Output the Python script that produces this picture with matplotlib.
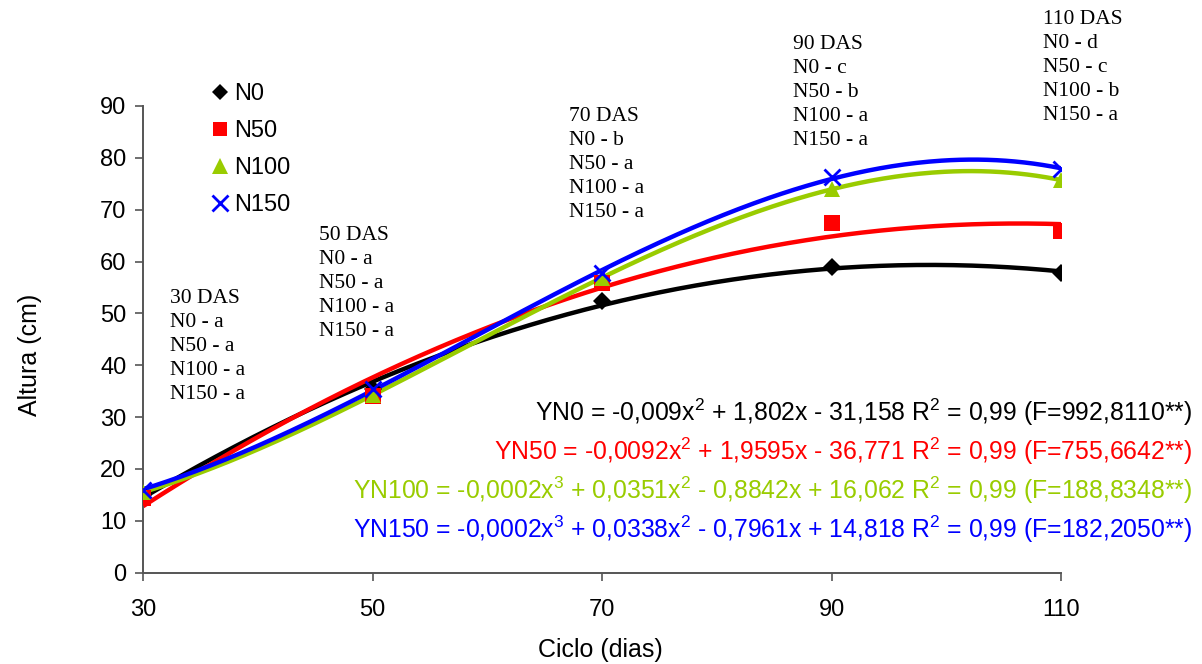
import numpy as np
import matplotlib
matplotlib.use("Agg")
import matplotlib.pyplot as plt

plt.rcParams['font.family'] = ['Liberation Sans', 'DejaVu Sans']
plt.rcParams['mathtext.default'] = 'regular'

# Plant height (cm) per nitrogen dose, sampled at each growth stage
dias = np.array([30, 50, 70, 90, 110])
n0 = np.array([15.0, 35.5, 52.3, 59.0, 57.8])
n50 = np.array([14.5, 34.0, 55.8, 67.4, 65.8])
n100 = np.array([15.5, 34.3, 56.8, 74.0, 75.7])
n150 = np.array([16.0, 35.5, 57.8, 76.3, 77.9])

nomes = ['N0', 'N50', 'N100', 'N150']
graus = [2, 2, 3, 3]
cores = ['black', '#FF0000', '#99CC00', '#0000FF']
marcadores = ['D', 's', '^', 'x']
tamanhos = [9, 11, 12, 12]

equacoes = [
    'YN0 = -0,009x$^{2}$ + 1,802x - 31,158 R$^{2}$ = 0,99 (F=992,8110**)',
    'YN50 = -0,0092x$^{2}$ + 1,9595x - 36,771 R$^{2}$ = 0,99 (F=755,6642**)',
    'YN100 = -0,0002x$^{3}$ + 0,0351x$^{2}$ - 0,8842x + 16,062 R$^{2}$ = 0,99 (F=188,8348**)',
    'YN150 = -0,0002x$^{3}$ + 0,0338x$^{2}$ - 0,7961x + 14,818 R$^{2}$ = 0,99 (F=182,2050**)',
]

# Tukey letters for each sampling date
das_titulos = ['30 DAS', '50 DAS', '70 DAS', '90 DAS', '110 DAS']
das_letras = [
    ['a', 'a', 'a', 'a'],
    ['a', 'a', 'a', 'a'],
    ['b', 'a', 'a', 'a'],
    ['c', 'b', 'a', 'a'],
    ['d', 'c', 'b', 'a'],
]
das_pos = [(170, 298), (319, 235), (569, 116), (793, 44), (1043, 19)]

W, H = 1202, 664
fig = plt.figure(figsize=(W / 100, H / 100), dpi=100)
ax = fig.add_axes([143 / W, 91.3 / H, (1061 - 143) / W, (572.7 - 106) / H])

series = [n0, n50, n100, n150]
xx = np.linspace(30, 110, 300)
for y, g, c in zip(series, graus, cores):
    coef = np.polyfit(dias, y, g)
    ax.plot(xx, np.polyval(coef, xx), color=c, lw=3.2, zorder=2, solid_capstyle='butt')

for y, nome, c, m, s in zip(series, nomes, cores, marcadores, tamanhos):
    ax.plot(dias, y, ls='none', marker=m, ms=s, color=c, mew=2 if m == 'x' else 0,
            label=nome, zorder=3)

ax.set_xlim(30, 110)
ax.set_ylim(0, 90)
ax.set_xticks(dias)
ax.set_yticks(np.arange(0, 91, 10))
for s in ['top', 'right']:
    ax.spines[s].set_visible(False)
for s in ['left', 'bottom']:
    ax.spines[s].set_color('#555555')
    ax.spines[s].set_linewidth(1.4)
ax.tick_params(axis='both', direction='out', length=6, width=1.2, color='#555555',
               labelsize=17)
ax.tick_params(axis='x', pad=13)
ax.tick_params(axis='y', pad=6)

fig.text(30 / W, 1 - 355 / H, 'Altura (cm)', rotation=90, fontsize=18,
         ha='center', va='center')
fig.text(600 / W, 1 - 650 / H, 'Ciclo (dias)', fontsize=18, ha='center', va='center')

leg = ax.legend(loc='upper left', bbox_to_anchor=(213 / W, 1 - 83 / H),
                bbox_transform=fig.transFigure, frameon=False, fontsize=17,
                handlelength=0.6, handletextpad=0.3, labelspacing=0.64,
                borderpad=0, borderaxespad=0, markerscale=0.95)

for titulo, letras, (px, py) in zip(das_titulos, das_letras, das_pos):
    linhas = [titulo] + [f'{n} - {l}' for n, l in zip(nomes, letras)]
    fig.text(px / W, 1 - (py - 9) / H, '\n'.join(linhas), family='Liberation Serif',
             fontsize=15.5, ha='left', va='top', linespacing=1.36)

for i, (eq, c) in enumerate(zip(equacoes, cores)):
    fig.text(1192 / W, 1 - (412 + 39 * i) / H, eq, color=c, fontsize=17.8,
             ha='right', va='center')

fig.savefig('out.png', dpi=100)
